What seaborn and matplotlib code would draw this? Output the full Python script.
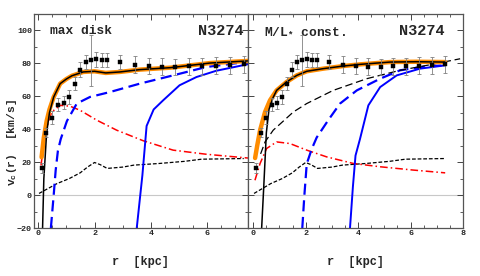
"""Rotation curve decomposition of N3274, two panels

"""

import numpy as np
import pandas as pd
import seaborn as sns
import matplotlib.pyplot as plt
from matplotlib.ticker import MultipleLocator

# observed rotation curve (same in both panels)
obs_r = [0.12, 0.28, 0.5, 0.7, 0.9, 1.1, 1.3, 1.48, 1.68, 1.87, 2.06, 2.25,
         2.45, 2.9, 3.42, 3.92, 4.38, 4.87, 5.34, 5.83, 6.32, 6.82, 7.3]
obs_v = [16.5, 38, 47, 55, 56, 59.6, 67.7, 76.2, 80.8, 81.8, 82.4, 82,
         82, 80.8, 79.2, 78.4, 78, 77.8, 78.2, 78.2, 78.6, 78.8, 79.4]
obs_err = [3, 3, 4, 4, 4, 4, 4, 4.5, 4.5, 15.5, 4.5, 4.5,
           4.5, 4.5, 5, 5, 5, 5, 5, 5, 5, 5, 5]

# gas contribution (same in both panels)
gas_r = [0.03, 0.67, 1.1, 1.49, 1.75, 2.0, 2.2, 2.45, 3.0, 3.4, 4.3, 5.2, 5.8, 7.3]
gas_v = [1, 7, 10, 13.5, 17, 19.8, 18.5, 16.2, 17, 18.2, 19.2, 20.5, 21.8, 22.2]

# --- max disk ---
md_fit_r = [0.12, 0.2, 0.3, 0.4, 0.55, 0.78, 1.0, 1.2, 1.6, 2.0, 2.4, 2.9, 3.6, 4.7, 6.1, 7.45]
md_fit_v = [23, 35, 45, 52, 59.6, 67.7, 70.5, 72.5, 74.8, 75.2, 74.2, 74.8, 76.2, 77.4, 80.2, 81.5]
md_tot_r = [0.155, 0.2, 0.3, 0.4, 0.55, 0.78, 1.0, 1.2, 1.6, 2.0, 2.4, 2.9, 3.6, 4.7, 6.1, 7.45]
md_tot_v = [-20, 10, 38, 50, 59.6, 67.7, 70.5, 72.5, 74.8, 75.2, 74.2, 74.8, 76.2, 77.4, 80.2, 81.5]
md_disk_r = [0.1, 0.2, 0.31, 0.48, 0.78, 1.13, 1.49, 2.08, 2.79, 3.73, 4.79, 5.97, 7.45]
md_disk_v = [18, 32, 41.4, 50.5, 54.5, 54, 51.5, 45.5, 39.4, 33, 27.3, 24.8, 22.5]
md_halo_r = [0.45, 0.55, 0.62, 0.7, 0.8, 1.02, 1.37, 1.84, 2.55, 3.61, 4.79, 5.97, 7.45]
md_halo_v = [-20, 0, 15, 27, 34, 45, 55.6, 59.6, 62.6, 67.7, 72.7, 77.8, 81]
md_halo2_r = [3.5, 3.7, 3.85, 4.1, 4.44, 5.02, 5.62, 6.32, 7.45]
md_halo2_v = [-20, 12, 42, 52, 57.6, 66.7, 71.7, 75.5, 79.5]

# --- M/L const ---
ml_fit_r = [0.07, 0.15, 0.26, 0.45, 0.64, 0.89, 1.27, 1.66, 2.04, 2.67, 3.44, 4.07, 5.22, 6.24, 7.32]
ml_fit_v = [22.5, 30, 39.4, 50.5, 57.6, 63.6, 68.7, 72.7, 75.2, 76.8, 78.4, 79.4, 80.8, 81, 80.8]
ml_tot_r = [0.32, 0.4, 0.5, 0.6, 0.75, 0.89, 1.27, 1.66, 2.04, 2.67, 3.44, 4.07, 5.22, 6.24, 7.32]
ml_tot_v = [-20, 5, 38, 52, 59, 63.6, 68.7, 72.7, 75.2, 76.8, 78.4, 79.4, 80.8, 81, 80.8]
ml_nohalo_r = [0.28, 0.45, 0.76, 1.15, 1.53, 2.04, 3.05, 4.33, 5.6, 6.62, 7.89]
ml_nohalo_v = [25, 32.3, 39.4, 45, 50.5, 55.6, 63.6, 70.7, 75.8, 78.8, 82.8]
ml_disk_r = [0.065, 0.26, 0.51, 0.89, 1.4, 2.04, 2.8, 3.82, 4.84, 6.1, 7.32]
ml_disk_v = [9, 19.2, 28.3, 32.3, 31.3, 27.3, 23.2, 19.2, 17.2, 15.2, 13.5]
ml_halo_r = [1.87, 1.95, 2.04, 2.23, 2.42, 2.86, 3.31, 3.95, 4.84, 5.6, 6.62, 7.32]
ml_halo_v = [-20, 0, 19, 28, 35, 45.5, 55.6, 63.6, 70.7, 75.8, 78.2, 78.8]
ml_halo2_r = [3.69, 3.8, 3.9, 4.07, 4.39, 4.84, 5.47, 6.36, 7.32]
ml_halo2_v = [-20, 5, 24, 34, 54.5, 65.6, 72.7, 76.8, 78.8]

MONO = "Liberation Mono"


def curve(ax, r, v, **kw):
    df = pd.DataFrame({"r": r, "v": v})
    sns.lineplot(data=df, x="r", y="v", ax=ax, sort=False, estimator=None, **kw)


def draw_panel(ax, fit, tot, disk, halo, halo2, nohalo=None):
    ax.axhline(0, color="#c8c8c8", lw=0.8, zorder=0)
    curve(ax, gas_r, gas_v, color="black", lw=0.9, dashes=(3, 1.5))
    curve(ax, disk[0], disk[1], color="red", lw=1.1, dashes=(5, 2, 1, 2))
    curve(ax, halo[0], halo[1], color="blue", lw=1.6, dashes=(5, 2.5))
    curve(ax, halo2[0], halo2[1], color="blue", lw=1.4)
    if nohalo is not None:
        curve(ax, nohalo[0], nohalo[1], color="black", lw=0.9, dashes=(6, 3))
    curve(ax, fit[0], fit[1], color="#ff8c00", lw=3.2)
    curve(ax, tot[0], tot[1], color="black", lw=1.1)
    ax.errorbar(obs_r, obs_v, yerr=obs_err, fmt="none", ecolor="#808080",
                elinewidth=0.6, capsize=1.5, capthick=0.6, zorder=4)
    sns.scatterplot(x=obs_r, y=obs_v, ax=ax, marker="s", s=8, color="black",
                    edgecolor="black", linewidth=0.3, zorder=5)

    ax.set_ylim(-20, 110)
    ax.xaxis.set_major_locator(MultipleLocator(2))
    ax.xaxis.set_minor_locator(MultipleLocator(0.5))
    ax.yaxis.set_major_locator(MultipleLocator(20))
    ax.yaxis.set_minor_locator(MultipleLocator(10))
    ax.tick_params(which="both", direction="in", top=True, right=True,
                   color="#444444", labelsize=6, pad=1.5)
    ax.tick_params(which="major", length=4, width=0.7)
    ax.tick_params(which="minor", length=2.5, width=0.6)
    for lab in ax.get_xticklabels() + ax.get_yticklabels():
        lab.set_fontfamily(MONO)
        lab.set_fontweight("bold")
    for sp in ax.spines.values():
        sp.set_color("#555555")
        sp.set_linewidth(0.9)
    ax.set_xlabel("r  [kpc]", fontfamily=MONO, fontweight="bold", fontsize=8.6)
    ax.xaxis.set_label_coords(0.5, -0.13)
    ax.set_ylabel("")


sns.set_style("ticks")
plt.rcParams["mathtext.fontset"] = "custom"
plt.rcParams["mathtext.rm"] = "Liberation Mono:bold"
plt.rcParams["mathtext.it"] = "Liberation Mono:bold"

fig = plt.figure(figsize=(4.8, 2.76), dpi=100)
ax1 = fig.add_axes([0.0708, 0.1739, 0.4458, 0.7754])
ax2 = fig.add_axes([0.5167, 0.1739, 0.4479, 0.7754])

draw_panel(ax1, (md_fit_r, md_fit_v), (md_tot_r, md_tot_v), (md_disk_r, md_disk_v),
           (md_halo_r, md_halo_v), (md_halo2_r, md_halo2_v))
ax1.set_xlim(-0.15, 7.45)
ax1.set_ylabel("v$_c$(r)  [km/s]", fontfamily=MONO, fontweight="bold", fontsize=8.2)
ax1.yaxis.set_label_coords(-0.068, 0.4)

draw_panel(ax2, (ml_fit_r, ml_fit_v), (ml_tot_r, ml_tot_v), (ml_disk_r, ml_disk_v),
           (ml_halo_r, ml_halo_v), (ml_halo2_r, ml_halo2_v),
           nohalo=(ml_nohalo_r, ml_nohalo_v))
ax2.set_xlim(-0.2, 8.0)
ax2.set_yticklabels([])

ax1.text(0.075, 0.92, "max disk", transform=ax1.transAxes, ha="left", va="center",
         fontfamily=MONO, fontweight="bold", fontsize=9.3)
ax1.text(0.98, 0.92, "N3274", transform=ax1.transAxes, ha="right", va="center",
         fontfamily=MONO, fontweight="bold", fontsize=11)
ax2.text(0.074, 0.92, r"M/L$_{*}$ const.", transform=ax2.transAxes, ha="left",
         va="center", fontfamily=MONO, fontweight="bold", fontsize=9.3)
ax2.text(0.916, 0.92, "N3274", transform=ax2.transAxes, ha="right", va="center",
         fontfamily=MONO, fontweight="bold", fontsize=11)

fig.savefig("out.png", dpi=100)
